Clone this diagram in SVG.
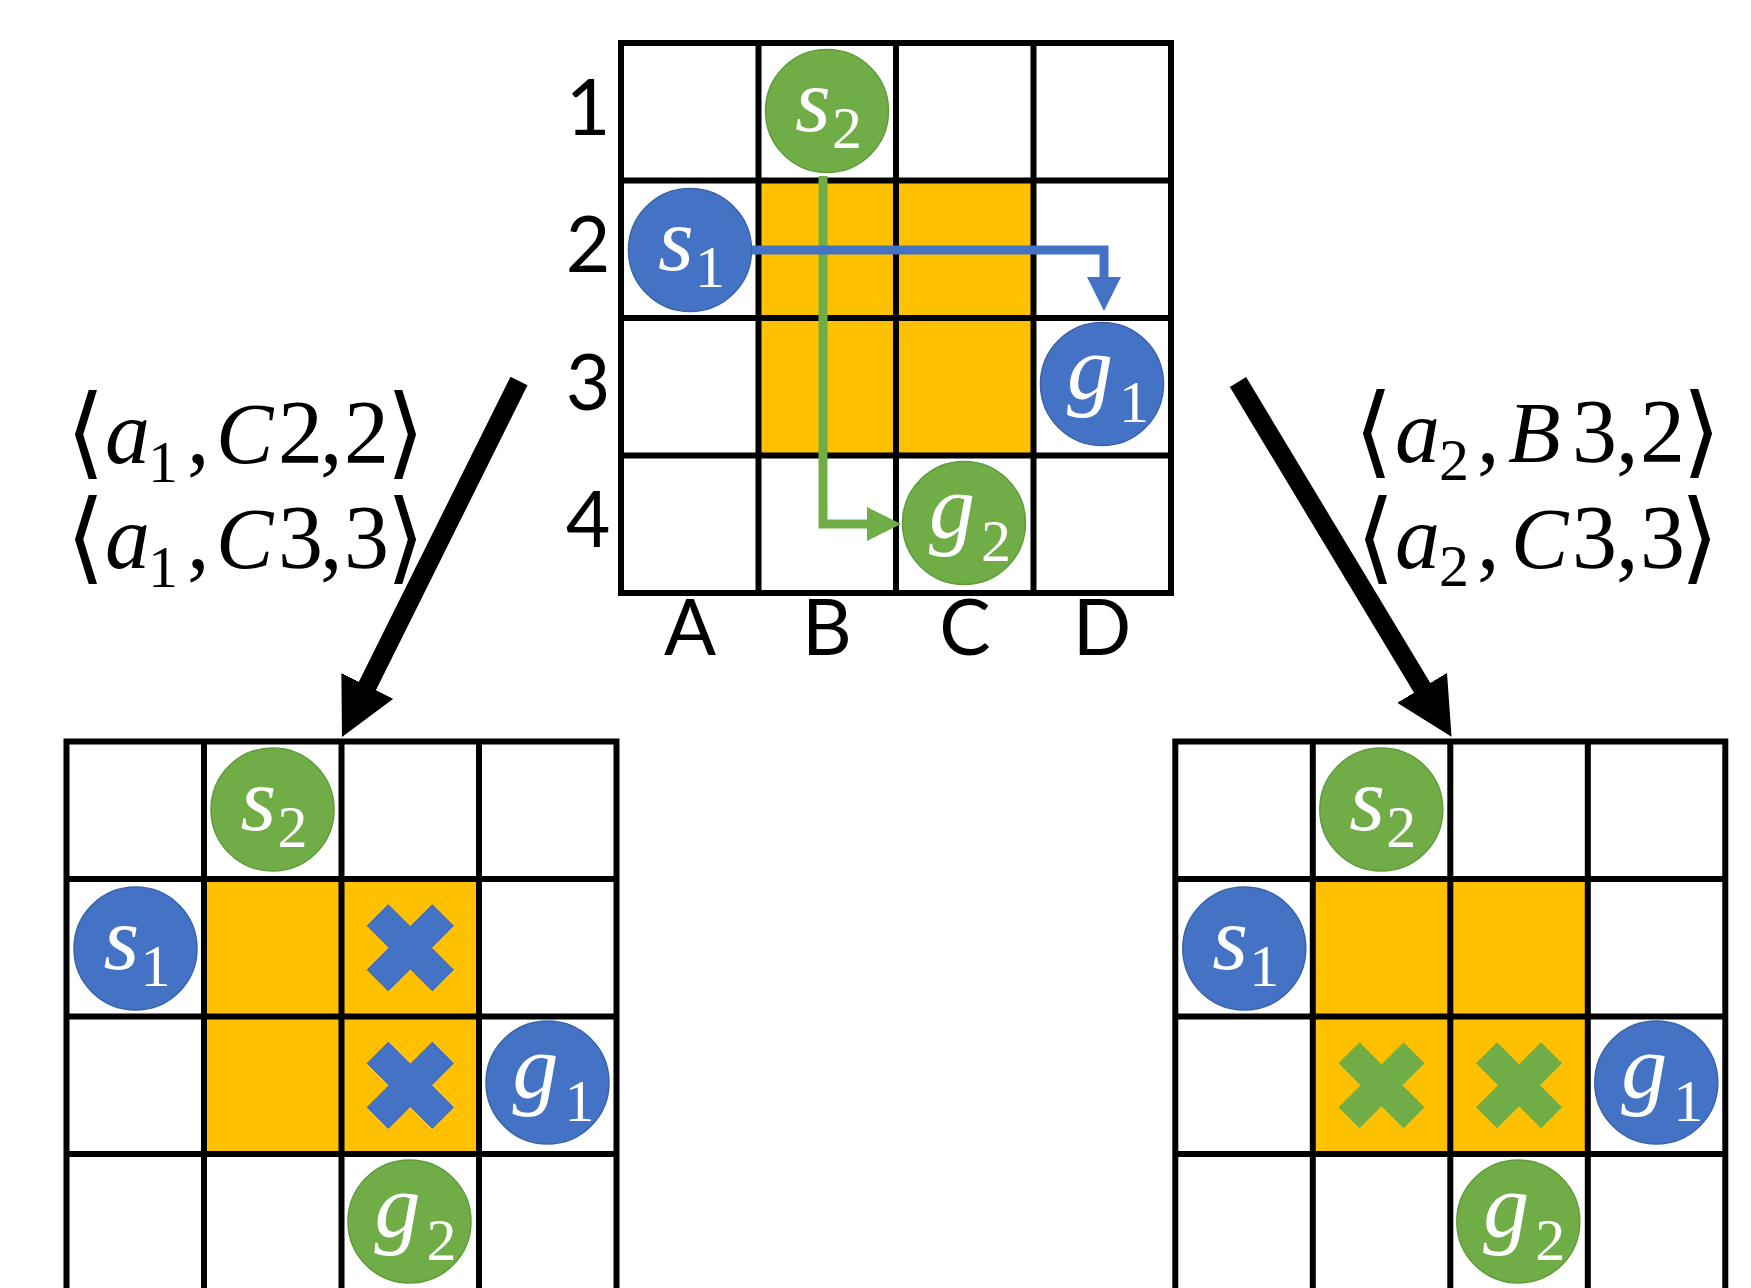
<svg xmlns="http://www.w3.org/2000/svg" xmlns:xlink="http://www.w3.org/1999/xlink" width="1751" height="1288" viewBox="0 0 1751 1288">
  <style>
    .gridline { fill: none; stroke: #000; stroke-width: 6; }
    .blocked { fill: #FFC000; }
    .agent1 { fill: #4472C4; stroke: #3A62AA; stroke-width: 1.5; }
    .agent2 { fill: #70AD47; stroke: #5F9A3B; stroke-width: 1.5; }
    .tok { fill: #fff; font-family: "Liberation Serif", serif; font-style: italic; font-size: 92px; }
    .tok .sub { font-style: normal; font-size: 60px; }
    .axis { font-family: "Lato", "Liberation Sans", sans-serif; font-size: 77px; fill: #000; text-anchor: middle; }
    .cons { font-family: "Liberation Serif", serif; font-size: 90px; fill: #000; }
    .cons .it { font-style: italic; }
    .cons .cap { font-style: italic; font-size: 86px; }
    .cons .sub { font-size: 60px; }
    .cons .br { font-family: "DejaVu Serif", serif; font-size: 100px; }
    .path1 { fill: none; stroke: #4472C4; stroke-width: 9; }
    .path2 { fill: none; stroke: #70AD47; stroke-width: 9; }
    .bigarrow { fill: none; stroke: #000; stroke-width: 19; }
  </style>
  <defs>
    <!-- 4x4 board: blocked centre cells, then the cell lines on top -->
    <g id="board">
      <rect class="blocked" x="137.5" y="137.5" width="275" height="275"/>
      <rect class="gridline" x="0" y="0" width="550" height="550"/>
      <path class="gridline" d="M137.5 0V550M275 0V550M412.5 0V550M0 137.5H550M0 275H550M0 412.5H550"/>
    </g>
    <!-- conflict cross -->
    <polygon id="cross" points="0,-21 22,-43 43,-22 21,0 43,22 22,43 0,21 -22,43 -43,22 -21,0 -43,-22 -22,-43"/>
    <marker id="headBlue" viewBox="0 0 34 34" refX="10" refY="17" markerWidth="34" markerHeight="34" markerUnits="userSpaceOnUse" orient="auto">
      <path d="M0 0L34 17L0 34Z" fill="#4472C4"/>
    </marker>
    <marker id="headGreen" viewBox="0 0 34 34" refX="10" refY="17" markerWidth="34" markerHeight="34" markerUnits="userSpaceOnUse" orient="auto">
      <path d="M0 0L34 17L0 34Z" fill="#70AD47"/>
    </marker>
    <marker id="headBlack" viewBox="0 0 57 58" refX="10" refY="29" markerWidth="57" markerHeight="58" markerUnits="userSpaceOnUse" orient="auto">
      <path d="M0 0L57 29L0 58Z" fill="#000"/>
    </marker>
  </defs>

  <rect x="0" y="0" width="1751" height="1288" fill="#fff"/>

  <!-- top board with axis labels -->
  <g id="board-top">
    <use xlink:href="#board" href="#board" x="621" y="43"/>
    <text class="axis" x="588" y="135">1</text>
    <text class="axis" x="588" y="272">2</text>
    <text class="axis" x="588" y="410">3</text>
    <text class="axis" x="588" y="547">4</text>
    <text class="axis" x="690" y="655">A</text>
    <text class="axis" x="827" y="655">B</text>
    <text class="axis" x="965" y="655">C</text>
    <text class="axis" x="1102" y="655">D</text>
  </g>
  <g id="board-left">
    <use xlink:href="#board" href="#board" x="66.5" y="741.5"/>
  </g>
  <g id="board-right">
    <use xlink:href="#board" href="#board" x="1175.3" y="741.5"/>
  </g>

  <!-- planned paths on the top board, and the two branch arrows -->
  <g id="connectors">
    <path class="path2" d="M823 176V524H877" marker-end="url(#headGreen)"/>
    <path class="path1" d="M752 250H1104V287" marker-end="url(#headBlue)"/>
    <path class="bigarrow" d="M519 381L362.9 694.9" marker-end="url(#headBlack)"/>
    <path class="bigarrow" d="M1238 382L1427.3 696.4" marker-end="url(#headBlack)"/>
  </g>

  <!-- agents on the top board -->
  <g id="top-s2"><circle class="agent2" cx="827" cy="111" r="61.5"/><text class="tok" x="795" y="131">s<tspan class="sub" x="832" y="148">2</tspan></text></g>
  <g id="top-s1"><circle class="agent1" cx="690" cy="250" r="61.5"/><text class="tok" x="658" y="270">s<tspan class="sub" x="695" y="287">1</tspan></text></g>
  <g id="top-g1"><circle class="agent1" cx="1102" cy="384" r="61.5"/><text class="tok" x="1067" y="399">g<tspan class="sub" x="1119" y="422">1</tspan></text></g>
  <g id="top-g2"><circle class="agent2" cx="964" cy="523" r="61.5"/><text class="tok" x="929" y="538">g<tspan class="sub" x="981" y="561">2</tspan></text></g>

  <!-- agents on the left board -->
  <g id="left-s2"><circle class="agent2" cx="272.5" cy="809.5" r="61.5"/><text class="tok" x="240.5" y="829.5">s<tspan class="sub" x="277.5" y="846.5">2</tspan></text></g>
  <g id="left-s1"><circle class="agent1" cx="135.5" cy="948.5" r="61.5"/><text class="tok" x="103.5" y="968.5">s<tspan class="sub" x="140.5" y="985.5">1</tspan></text></g>
  <g id="left-g1"><circle class="agent1" cx="547.5" cy="1082.5" r="61.5"/><text class="tok" x="512.5" y="1097.5">g<tspan class="sub" x="564.5" y="1120.5">1</tspan></text></g>
  <g id="left-g2"><circle class="agent2" cx="409.5" cy="1221.5" r="61.5"/><text class="tok" x="374.5" y="1236.5">g<tspan class="sub" x="426.5" y="1259.5">2</tspan></text></g>
  <g id="left-x1"><use xlink:href="#cross" href="#cross" x="410.3" y="947.8" fill="#4472C4" stroke="#3A62AA" stroke-width="1"/></g>
  <g id="left-x2"><use xlink:href="#cross" href="#cross" x="410.3" y="1085.3" fill="#4472C4" stroke="#3A62AA" stroke-width="1"/></g>

  <!-- agents on the right board -->
  <g id="right-s2"><circle class="agent2" cx="1381.3" cy="809.5" r="61.5"/><text class="tok" x="1349.3" y="829.5">s<tspan class="sub" x="1386.3" y="846.5">2</tspan></text></g>
  <g id="right-s1"><circle class="agent1" cx="1244.3" cy="948.5" r="61.5"/><text class="tok" x="1212.3" y="968.5">s<tspan class="sub" x="1249.3" y="985.5">1</tspan></text></g>
  <g id="right-g1"><circle class="agent1" cx="1656.3" cy="1082.5" r="61.5"/><text class="tok" x="1621.3" y="1097.5">g<tspan class="sub" x="1673.3" y="1120.5">1</tspan></text></g>
  <g id="right-g2"><circle class="agent2" cx="1518.3" cy="1221.5" r="61.5"/><text class="tok" x="1483.3" y="1236.5">g<tspan class="sub" x="1535.3" y="1259.5">2</tspan></text></g>
  <g id="right-x1"><use xlink:href="#cross" href="#cross" x="1381.5" y="1085.3" fill="#70AD47"/></g>
  <g id="right-x2"><use xlink:href="#cross" href="#cross" x="1519" y="1085.3" fill="#70AD47"/></g>

  <!-- constraint labels -->
  <g id="constraints-left">
    <text class="cons" y="463"><tspan class="br" x="66" y="466">⟨</tspan><tspan class="it" x="105" y="463">a</tspan><tspan class="sub" x="148" y="482">1</tspan><tspan x="187" y="463">,</tspan><tspan class="cap" x="216">C</tspan><tspan x="278">2</tspan><tspan x="320">,</tspan><tspan x="344">2</tspan><tspan class="br" x="386" y="466">⟩</tspan></text>
    <text class="cons" y="568"><tspan class="br" x="66" y="571">⟨</tspan><tspan class="it" x="105" y="568">a</tspan><tspan class="sub" x="148" y="587">1</tspan><tspan x="187" y="568">,</tspan><tspan class="cap" x="216">C</tspan><tspan x="278">3</tspan><tspan x="320">,</tspan><tspan x="344">3</tspan><tspan class="br" x="386" y="571">⟩</tspan></text>
  </g>
  <g id="constraints-right">
    <text class="cons" y="462"><tspan class="br" x="1354" y="465">⟨</tspan><tspan class="it" x="1395" y="462">a</tspan><tspan class="sub" x="1439" y="480">2</tspan><tspan x="1477" y="462">,</tspan><tspan class="cap" x="1508">B</tspan><tspan x="1572">3</tspan><tspan x="1616">,</tspan><tspan x="1640">2</tspan><tspan class="br" x="1682" y="465">⟩</tspan></text>
    <text class="cons" y="568"><tspan class="br" x="1356" y="571">⟨</tspan><tspan class="it" x="1395" y="568">a</tspan><tspan class="sub" x="1439" y="586">2</tspan><tspan x="1477" y="568">,</tspan><tspan class="cap" x="1511">C</tspan><tspan x="1572">3</tspan><tspan x="1616">,</tspan><tspan x="1640">3</tspan><tspan class="br" x="1680" y="571">⟩</tspan></text>
  </g>
</svg>
